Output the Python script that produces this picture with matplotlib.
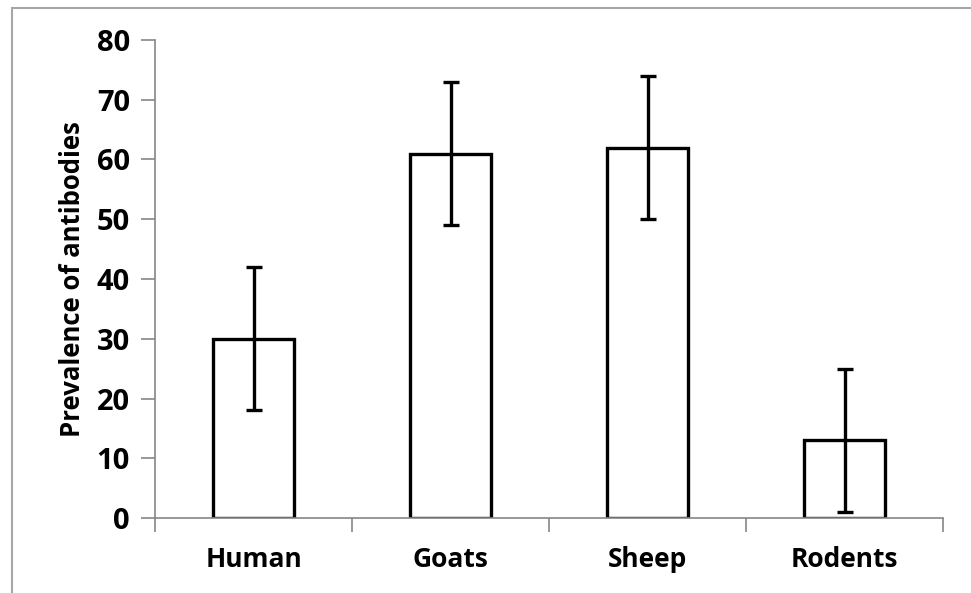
import matplotlib.pyplot as plt
import numpy as np
from matplotlib.patches import Rectangle

groups = ['Human', 'Goats', 'Sheep', 'Rodents']
prevalence = [30, 61, 62, 13]
err = [12, 12, 12, 12]

plt.rcParams['font.family'] = 'Open Sans'
plt.rcParams['font.weight'] = 'bold'

fig = plt.figure(figsize=(9.71, 5.93), dpi=100)
ax = fig.add_axes([155/971, 75/593, 788/971, 478/593])

# outer frame around the chart area
fig.patches.append(Rectangle((12/971, -0.1), 2.0, (585 + 0.1*593)/593,
                             transform=fig.transFigure, fill=False,
                             edgecolor='#a6a6a6', linewidth=1.5))

x = np.arange(len(groups))
ax.bar(x, prevalence, width=0.41, color='white', edgecolor='black',
       linewidth=2.4, zorder=2)
ax.errorbar(x, prevalence, yerr=err, fmt='none', ecolor='black',
            elinewidth=2.4, capsize=6, capthick=2.4, zorder=3)

ax.set_xlim(-0.5, len(groups) - 0.5)
ax.set_ylim(0, 80)
ax.set_yticks(np.arange(0, 81, 10))
ax.set_xticks(x)
ax.set_xticklabels(groups)
ax.set_xticks(np.arange(-0.5, len(groups)), minor=True)
ax.tick_params(axis='x', which='major', length=0, pad=20, labelsize=19)
ax.tick_params(axis='x', which='minor', length=10, width=1.2,
               color='#868686', direction='out')
ax.tick_params(axis='y', length=10, width=1.2, color='#868686',
               direction='out', pad=8, labelsize=21)

for side in ['top', 'right']:
    ax.spines[side].set_visible(False)
for side in ['left', 'bottom']:
    ax.spines[side].set_color('#868686')
    ax.spines[side].set_linewidth(1.2)

ax.set_ylabel('Prevalence of antibodies', fontsize=18.5, fontweight='bold',
              labelpad=8)

fig.savefig('out.png', dpi=100)
